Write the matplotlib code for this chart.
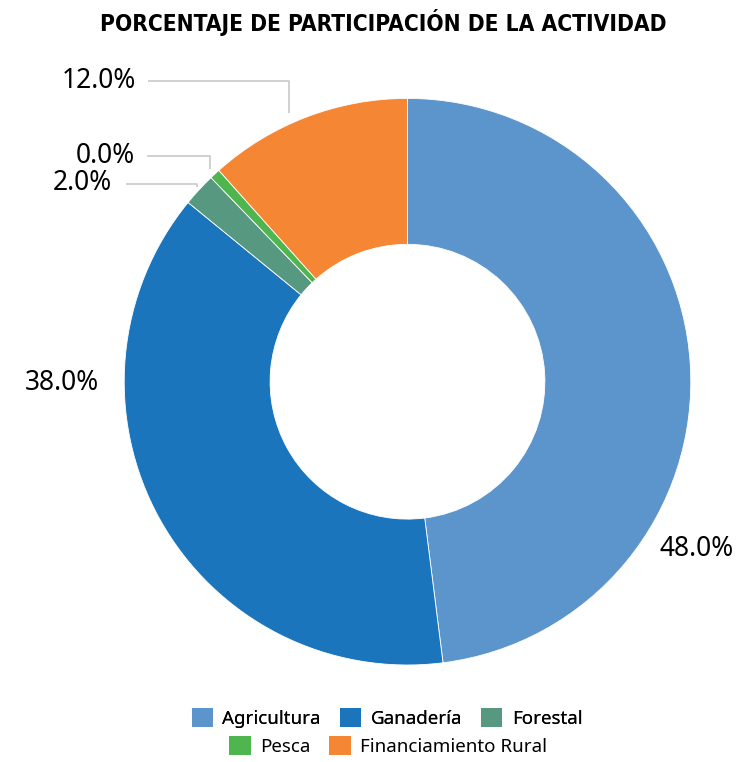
import numpy as np
import matplotlib
matplotlib.use("Agg")
import matplotlib.pyplot as plt
from matplotlib.patches import Patch
from matplotlib import font_manager

# data
categories = ["Agricultura", "Ganadería", "Forestal", "Pesca", "Financiamiento Rural"]
shares = [48.0, 37.9, 1.9, 0.6, 11.6]
label_text = ["48.0%", "38.0%", "2.0%", "0.0%", "12.0%"]
colors = ["#5B95CC", "#1B75BC", "#579980", "#4FB54E", "#F48634"]

W, H = 742, 762
CX, CY, R = 407.5, 381.7, 283.3

def px(x, y):
    # pixel (from top-left) -> data coords of the pie axes
    return (x - CX) / R, (CY - y) / R

plt.rcParams["font.family"] = ["Noto Sans", "DejaVu Sans"]
fig = plt.figure(figsize=(W / 100, H / 100), dpi=100)
ax = fig.add_axes([(CX - R) / W, (H - CY - R) / H, 2 * R / W, 2 * R / H])

wedges, _ = ax.pie(shares, colors=colors, startangle=90, counterclock=False,
                   radius=1.0, wedgeprops=dict(width=0.515, edgecolor="white", linewidth=0.6))
ax.set_xlim(-1, 1); ax.set_ylim(-1, 1); ax.set_aspect("equal"); ax.axis("off")

# big labels placed where the reference has them
ax.text(*px(696.5, 549), label_text[0], ha="center", va="center", fontsize=19)
ax.text(*px(62, 383), label_text[1], ha="center", va="center", fontsize=19)

# small slices: text + elbow leader line to the wedge
# (index, text right x, text y, line start x, radius of line end, position along wedge)
small = [(4, 136, 81, 148, 1.036, 0.57), (3, 135, 156, 147, 1.025, 0.5),
         (2, 112, 183.5, 126, 1.012, 0.5)]
for i, tx, ty, lx, rr, f in small:
    w = wedges[i]
    a = np.deg2rad(w.theta1 + f * (w.theta2 - w.theta1))
    ex, ey = rr * np.cos(a), rr * np.sin(a)
    x0, y0 = px(lx, ty)
    ax.plot([x0, ex, ex], [y0, y0, ey], color="#c9c9c9", lw=1.2, clip_on=False,
            solid_capstyle="butt")
    ax.text(*px(tx, ty), label_text[i], ha="right", va="center", fontsize=19)

# title: condensed bold face if available, sized to the reference width
title = "PORCENTAJE DE PARTICIPACIÓN DE LA ACTIVIDAD"
def rank(fe):
    n = (fe.fname + " " + fe.style + " " + str(fe.stretch)).lower().replace(" ", "").replace("-", "")
    try: wt = int(fe.weight)
    except (TypeError, ValueError): wt = 700 if "bold" in str(fe.weight) else 400
    if "extracondensed" in n or "ultracondensed" in n: s = 2
    elif "semicondensed" in n: s = 1
    elif "condensed" in n or "narrow" in n: s = 0
    else: s = 9
    return (s, abs(wt - 700), "italic" in n or "oblique" in n)
faces = sorted(font_manager.fontManager.ttflist, key=rank)
best = faces[0] if rank(faces[0])[0] < 9 else None
if best is not None:
    tp = font_manager.FontProperties(fname=best.fname, size=18)
else:
    tp = font_manager.FontProperties(family="DejaVu Sans", weight="bold", size=18)
t = fig.text(383 / W, 1 - 22 / H, title, ha="center", va="center", fontproperties=tp)
fig.canvas.draw()
wpx = t.get_window_extent().width
tp.set_size(min(19, 18 * 565 / wpx))
t.set_fontproperties(tp)

handles = [Patch(facecolor=c, edgecolor="none") for c in colors]
kw = dict(frameon=False, fontsize=13.5, handlelength=1.15, handleheight=1.15,
          handletextpad=0.5, columnspacing=1.0, borderpad=0, loc="center")
leg1 = fig.legend(handles[:3], categories[:3], ncol=3, bbox_to_anchor=(387 / W, 1 - 718 / H), **kw)
fig.legend(handles[3:], categories[3:], ncol=2, bbox_to_anchor=(388 / W, 1 - 746 / H), **kw)
fig.add_artist(leg1)

fig.savefig("out.png", dpi=100)
